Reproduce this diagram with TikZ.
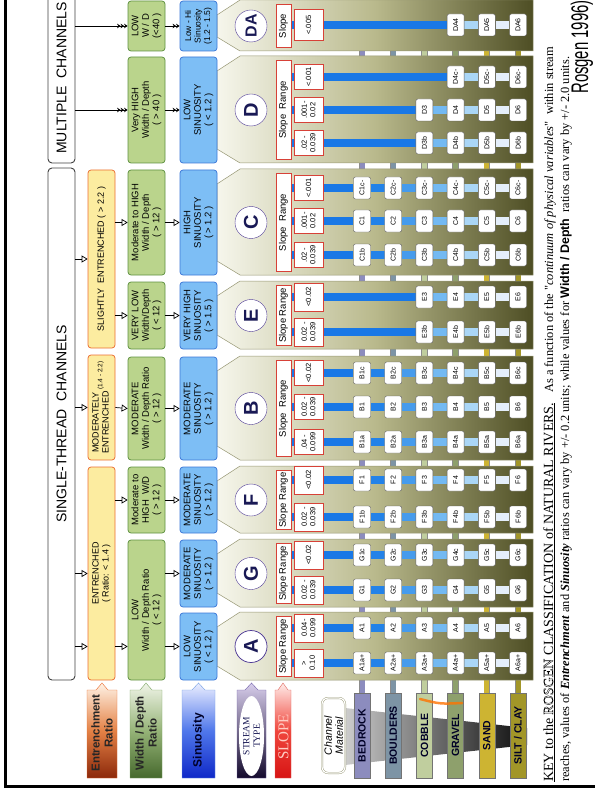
\documentclass[tikz,border=0pt]{standalone}
\usepackage{fontspec}
\usepackage{graphicx}
\setmainfont{Liberation Sans}
\newfontfamily\keyfont{Liberation Serif}
\newfontfamily\narrowfont[FakeStretch=0.62]{Liberation Sans}
\usetikzlibrary{arrows.meta,shapes.geometric}
\pgfdeclarelayer{back}
\pgfdeclarelayer{bg}
\pgfdeclarelayer{mid}
\pgfsetlayers{back,bg,mid,main}

\definecolor{entfill}{RGB}{252,236,160}
\definecolor{entline}{RGB}{235,110,50}
\definecolor{wdfill}{RGB}{186,212,140}
\definecolor{wdline}{RGB}{95,145,65}
\definecolor{sinfill}{RGB}{125,190,245}
\definecolor{sinline}{RGB}{60,120,215}
\definecolor{typeline}{RGB}{80,60,150}
\definecolor{typetext}{RGB}{25,25,85}
\definecolor{slopered}{RGB}{215,65,55}
\definecolor{paneltop}{RGB}{246,246,236}
\definecolor{panelmid}{RGB}{185,185,140}
\definecolor{panelbot}{RGB}{78,78,36}
\definecolor{panelline}{RGB}{150,150,115}
\definecolor{bar0}{RGB}{25,120,230}
\definecolor{bar1}{RGB}{35,130,232}
\definecolor{bar2}{RGB}{70,155,236}
\definecolor{bar3}{RGB}{115,185,242}
\definecolor{bar4}{RGB}{170,214,246}
\definecolor{bar5}{RGB}{228,238,250}
\definecolor{mat1}{RGB}{140,140,190}
\definecolor{mat2}{RGB}{125,148,165}
\definecolor{mat3}{RGB}{192,206,158}
\definecolor{mat4}{RGB}{142,160,108}
\definecolor{mat5}{RGB}{205,180,50}
\definecolor{mat6}{RGB}{162,150,40}

\newcommand\rosgenword{{\special{pdf:literal direct 1 Tr 0.35 w}ROSGEN\special{pdf:literal direct 0 Tr}}}

\tikzset{every picture/.style={line width=0.75pt}}
\tikzset{
  rot/.style={rotate=90, align=center, inner sep=1pt},
  rotxt/.style={rotate=90, inner sep=0pt},
  hdrbox/.style={rot, draw=black!75, fill=white, rounded corners=4pt, line width=0.9pt, minimum height=27, font=\fontsize{14}{16}\selectfont},
  entbox/.style={rot, draw=entline, fill=entfill, rounded corners=3pt, minimum height=27, font=\fontsize{9}{10}\selectfont},
  wdbox/.style={rot, draw=wdline, fill=wdfill, rounded corners=3pt, minimum height=37, font=\fontsize{9.5}{10.5}\selectfont},
  sinbox/.style={rot, draw=sinline, fill=sinfill, rounded corners=3pt, minimum height=37, font=\fontsize{9.5}{10.5}\selectfont},
  typecirc/.style={circle, rotate=90, draw=typeline, fill=white, minimum size=32, inner sep=0pt, text=typetext, font=\bfseries\fontsize{20}{20}\selectfont},
  srbox/.style={rot, draw=slopered, fill=white, minimum height=15, font=\fontsize{9.5}{10}\selectfont},
  svbox/.style={rot, draw=slopered, fill=white, minimum height=29, inner sep=0.5pt, font=\fontsize{7.5}{8.5}\selectfont},
  typebox/.style={rot, draw=black!65, fill=white, rounded corners=2pt, minimum width=22, minimum height=17, inner sep=0pt, font=\fontsize{7}{8}\selectfont},
  matbar/.style={rot, draw=black!55, minimum width=85, minimum height=16, inner sep=0pt, font=\bfseries\fontsize{10.5}{11}\selectfont, text=black!85!blue},
  panel/.style={draw=panelline, line width=0.5pt, left color=paneltop, right color=panelbot, middle color=panelmid},
  bar/.style={line width=8pt},
  openarr/.style={-{Triangle[open,length=6pt,width=7pt]}, line width=0.7pt},
  dblarr/.style={-{Stealth[length=3.5pt,width=4.5pt]Stealth[length=3.5pt,width=4.5pt]}, line width=0.8pt},
  multarr/.style={-{Stealth[length=3.5pt,width=4.5pt]Stealth[length=3.5pt,width=4.5pt]Stealth[length=3.5pt,width=4.5pt]}, line width=0.8pt},
  legtext/.style={rot, font=\bfseries\fontsize{11.5}{13}\selectfont, text=black!85},
}

\begin{document}
\begin{tikzpicture}[x=1pt,y=-1pt]
\useasboundingbox (0,0) rectangle (595,794);

% frame
\draw[line width=3pt] (5,0) -- (5,786) -- (595,786);

% channel headers
\node[hdrbox, minimum width=512] (hd-st) at (61.5,424) {SINGLE-THREAD\ \ CHANNELS};
\node[hdrbox, minimum width=170] (hd-mc) at (61.5,78) {MULTIPLE\ \ CHANNELS};

% entrenchment ratio
\node[entbox, minimum width=213] (ent-AGF) at (101.5,573.5) {ENTRENCHED\\( Ratio: < 1.4 )};
\node[entbox, minimum width=105] (ent-B) at (101.5,407.5) {\begin{tabular}{@{}c@{\,}l@{}}MODERATELY & \\ ENTRENCHED & \raisebox{1.3ex}[0pt][0pt]{\fontsize{6.5}{7}\selectfont(1.4 - 2.2)}\end{tabular}};
\node[entbox, minimum width=178] (ent-EC) at (101.5,259) {SLIGHTLY\ \ ENTRENCHED ( > 2.2 )};

% width / depth ratio
\node[wdbox, minimum width=140] (wd-AG) at (146.5,610) {LOW\\Width / Depth Ratio\\( < 12 )};
\node[wdbox, minimum width=66] (wd-F) at (146.5,500) {Moderate to\\HIGH\ \ W/D\\( > 12 )};
\node[wdbox, minimum width=103] (wd-B) at (146.5,408.5) {MODERATE\\Width / Depth Ratio\\( > 12 )};
\node[wdbox, minimum width=67] (wd-E) at (146.5,315.5) {VERY LOW\\Width/Depth\\( < 12 )};
\node[wdbox, minimum width=105] (wd-C) at (146.5,222.5) {Moderate to HIGH\\Width / Depth\\( > 12 )};
\node[wdbox, minimum width=106] (wd-D) at (146.5,110) {Very HIGH\\Width / Depth\\( > 40 )};
\node[wdbox, minimum width=50] (wd-DA) at (146.5,26) {LOW\\W / D\\(<40 )};

% sinuosity
\node[sinbox, minimum width=67] (sin-A) at (198.5,646.5) {LOW\\SINUOSITY\\( < 1.2 )};
\node[sinbox, minimum width=67] (sin-G) at (198.5,573.5) {MODERATE\\SINUOSITY\\( > 1.2 )};
\node[sinbox, minimum width=66] (sin-F) at (198.5,500) {MODERATE\\SINUOSITY\\( > 1.2 )};
\node[sinbox, minimum width=103] (sin-B) at (198.5,408.5) {MODERATE\\SINUOSITY\\( > 1.2 )};
\node[sinbox, minimum width=67] (sin-E) at (198.5,315.5) {VERY HIGH\\SINUOSITY\\( > 1.5 )};
\node[sinbox, minimum width=105] (sin-C) at (198.5,222.5) {HIGH\\SINUOSITY\\( > 1.2 )};
\node[sinbox, minimum width=106] (sin-D) at (198.5,110) {LOW\\SINUOSITY\\( < 1.2 )};
\node[sinbox, minimum width=50, font=\fontsize{8.5}{9.5}\selectfont] (sin-DA) at (198.5,26) {Low - Hi\\Sinuosity\\(1.2 - 1.5)};

% arrows between the rows
\draw[openarr] (hd-st.south |- sin-A) -- (ent-AGF.north |- sin-A);
\draw[openarr] (hd-st.south |- sin-G) -- (ent-AGF.north |- sin-G);
\draw[openarr] (hd-st.south |- ent-B) -- (ent-B.north);
\draw[openarr] (hd-st.south |- ent-EC) -- (ent-EC.north);
\draw[openarr] (ent-AGF.south |- sin-A) -- (wd-AG.north |- sin-A);
\draw[openarr] (ent-AGF.south |- wd-F) -- (wd-F.north);
\draw[openarr] (ent-B.south) -- (wd-B.north);
\draw[openarr] (ent-EC.south |- wd-E) -- (wd-E.north);
\draw[openarr] (ent-EC.south |- wd-C) -- (wd-C.north);
\draw[openarr] (wd-AG.south |- sin-A) -- (sin-A.north);
\draw[openarr] (wd-AG.south |- sin-G) -- (sin-G.north);
\draw[openarr] (wd-F.south) -- (sin-F.north);
\draw[openarr] (wd-B.south) -- (sin-B.north);
\draw[openarr] (wd-E.south) -- (sin-E.north);
\draw[openarr] (wd-C.south) -- (sin-C.north);
\draw[dblarr] (wd-D.south) -- (sin-D.north);
\draw[dblarr] (wd-DA.south) -- (sin-DA.north);
\draw[multarr] (hd-mc.south |- wd-D) -- (wd-D.north);
\draw[multarr] (hd-mc.south |- wd-DA) -- (wd-DA.north);

% stream type panels, circles, slope range
\foreach \n/\lo/\hi/\lbl/\srt in {A/613/680/A/Slope Range, G/540/607/G/Slope Range,
    F/467/533/F/Slope Range, B/357/460/B/Slope\ \ Range, E/282/349/E/Slope Range,
    C/170/275/C/Slope\ \ Range, D/57/163/D/Slope\ \ Range,
    DA/1/51/{\fontsize{16}{16}\selectfont DA}/Slope}{
  \pgfmathsetmacro\cy{(\lo+\hi)/2}
  \node[typecirc] (tc-\n) at (251,\cy) {\lbl};
  \node[srbox, minimum width=\hi-\lo-7] (sr-\n) at (283.5,\cy) {\srt};
  \begin{pgfonlayer}{bg}
    \path[panel] (217,\lo+14) -- (240,\lo-1) -- (533,\lo-1) -- (533,\hi) -- (240,\hi) -- (217,\hi-14) -- cycle;
  \end{pgfonlayer}
}

% slope values and stream types
\foreach \y/\col/\pre/\suf/\first/\sw/\val in {
    663/A/A/a+/1/28/{>\\0.10}, 628/A/A//1/28/{0.04-\\0.099},
    590/G/G//1/28/{0.02 -\\0.039}, 555/G/G/c/1/28/{<0.02},
    517/F/F/b/1/28/{0.02 -\\0.039}, 480/F/F//1/28/{<0.02},
    442/B/B/a/1/25/{.04 -\\0.099}, 407/B/B//1/25/{0.02 -\\0.039}, 373/B/B/c/1/25/{<0.02},
    332/E/E/b/3/28/{0.02 -\\0.039}, 297/E/E//3/28/{<0.02},
    255/C/C/b/1/25/{.02 -\\0.039}, 221/C/C//1/25/{.001-\\0.02}, 188/C/C/c-/1/25/{<.001},
    143/D/D/b/3/25/{.02 -\\0.039}, 110/D/D//3/25/{.001-\\0.02}, 77/D/D/c-/4/25/{<.001},
    25/DA/DA//4/31/{<.005}}{
  \node[svbox, minimum width=\sw] (sv-\y) at (308.5,\y) {\val};
  \foreach \row in {\first,...,6}{
    \pgfmathsetmacro\xr{362+(\row-1)*31.2}
    \node[typebox] (ty-\y-\row) at (\xr,\y) {\pre\row\suf};
  }
  \begin{pgfonlayer}{mid}
    \draw[bar, draw=bar0] (sr-\col.south |- ty-\y-\first) -- (ty-\y-\first);
    \foreach \row in {\first,...,5}{
      \pgfmathtruncatemacro\nr{\row+1}
      \draw[bar, draw=bar\row] (ty-\y-\row) -- (ty-\y-\nr);
    }
  \end{pgfonlayer}
}

% channel material
\shade[left color=black!20, right color=black!95] (345,708) -- (527,728) -- (527,745) -- (345,765) -- cycle;
\foreach \row/\mat in {1/BEDROCK, 2/BOULDERS, 3/COBBLE, 4/GRAVEL, 5/SAND, 6/{SILT / CLAY}}{
  \pgfmathsetmacro\xr{362+(\row-1)*31.2}
  \node[matbar, fill=mat\row] (mat-\row) at (\xr,735.5) {\mat};
  \begin{pgfonlayer}{back}
    \draw[line width=6.5pt, draw=black!45] (mat-\row.east) -- (mat-\row.east |- 0,0);
    \draw[line width=5pt, draw=mat\row] (mat-\row.east) -- (mat-\row.east |- 0,0);
  \end{pgfonlayer}
}
\draw[line width=2.5pt, draw=orange!90!red, opacity=0.8, line cap=round] (420,699) .. controls (440,704) .. (462,703);
\node[rot, draw=panelline, double=white, double distance=1.2pt, fill=white, rounded corners=6pt, minimum width=75, minimum height=23, font=\itshape\fontsize{10.5}{11}\selectfont] (chmat) at (333.5,735.5) {Channel\\Material};

% legend tabs
\shade[draw=entline, top color=white!90!orange, bottom color={rgb,255:red,140;green,40;blue,10}, middle color={rgb,255:red,228;green,130;blue,70}] (87,778) -- (87,690) -- (96,690) -- (102,683) -- (108,690) -- (117,690) -- (117,778) -- cycle;
\node[legtext] (lg-ent) at (102,733) {Entrenchment\\Ratio};
\shade[draw=wdline!80, top color={rgb,255:red,240;green,244;blue,232}, bottom color={rgb,255:red,70;green,105;blue,45}, middle color={rgb,255:red,150;green,180;blue,120}] (130,778) -- (130,690) -- (140,690) -- (146,683) -- (152,690) -- (162,690) -- (162,778) -- cycle;
\node[legtext] (lg-wd) at (146,733) {Width / Depth\\Ratio};
\shade[draw=sinline!70, top color={rgb,255:red,235;green,238;blue,255}, bottom color={rgb,255:red,15;green,40;blue,200}, middle color={rgb,255:red,80;green,120;blue,235}] (182,778) -- (182,690) -- (192,690) -- (198.5,683) -- (205,690) -- (215,690) -- (215,778) -- cycle;
\node[legtext, font=\bfseries\fontsize{12}{13}\selectfont, text=black!85!blue] (lg-sin) at (198.5,740) {Sinuosity};
\shade[draw=typeline!80, top color={rgb,255:red,215;green,205;blue,235}, bottom color={rgb,255:red,20;green,10;blue,45}] (237,778) -- (237,690) -- (245,690) -- (251.5,683) -- (258,690) -- (266,690) -- (266,778) -- cycle;
\node[ellipse, rotate=90, fill=white, minimum width=80, minimum height=25, inner sep=0pt, align=center, text=typetext, font=\keyfont\fontsize{9.5}{10.5}\selectfont] (lg-st) at (251.5,736) {STREAM\\TYPE};
\shade[draw=slopered!80, top color={rgb,255:red,255;green,235;blue,232}, bottom color={rgb,255:red,215;green,20;blue,20}, middle color={rgb,255:red,240;green,70;blue,60}] (275,778) -- (275,690) -- (278,690) -- (283,683) -- (288,690) -- (291,690) -- (291,778) -- cycle;
\node[rotxt, text={rgb,255:red,255;green,205;blue,195}, font=\keyfont\fontsize{15}{15}\selectfont] (lg-sl) at (283.5,737) {SLOPE};

% key text
\node[rotxt, anchor=base west, font=\keyfont\fontsize{13.2}{15}\selectfont] (key1) at (553,782) {\resizebox{379pt}{!}{\underline{KEY to the \rosgenword{} CLASSIFICATION of NATURAL RIVERS.}}\hspace{10pt}\resizebox{346pt}{!}{\fontsize{12}{13}\selectfont As a function of the "\textit{continuum of physical variables}"\ \ within stream}};
\node[rotxt, anchor=base west, font=\keyfont\fontsize{11.5}{13}\selectfont] (key2) at (569,782) {\resizebox{725pt}{!}{reaches, values of \textbf{\textit{Entrenchment}} and \textbf{\textit{Sinuosity}} ratios can vary by +/- 0.2 units; while values for {\rmfamily\bfseries Width / Depth}\ \ ratios can vary by +/- 2.0 units.}};
\node[rotxt, font=\narrowfont\fontsize{24}{26}\selectfont] (cite) at (582,47) {Rosgen 1996)};

\end{tikzpicture}
\end{document}
